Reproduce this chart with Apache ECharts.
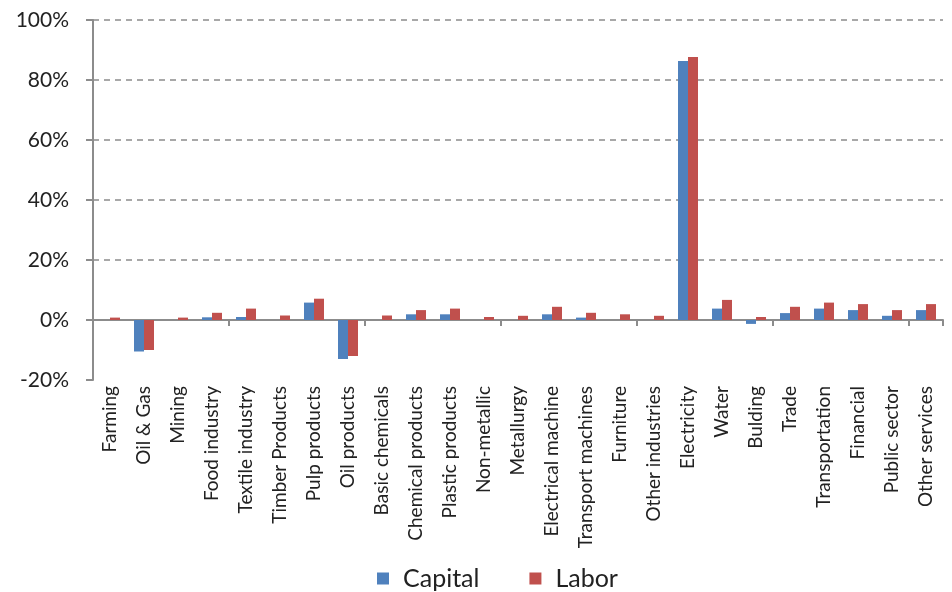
<!DOCTYPE html>
<html>
<head>
<meta charset="utf-8">
<script src="https://cdn.jsdelivr.net/npm/echarts@6/dist/echarts.min.js"></script>
<style>
  html, body { margin: 0; padding: 0; background: #fff; }
  #main { width: 952px; height: 592px; }
</style>
</head>
<body>
<div id="main"></div>
<script>
var categories = ['Farming', 'Oil & Gas', 'Mining', 'Food industry', 'Textile industry', 'Timber Products',
  'Pulp products', 'Oil products', 'Basic chemicals', 'Chemical products', 'Plastic products', 'Non-metallic',
  'Metallurgy', 'Electrical machine', 'Transport machines', 'Furniture', 'Other industries', 'Electricity',
  'Water', 'Bulding', 'Trade', 'Transportation', 'Financial', 'Public sector', 'Other services'];
var capital = [0, -10.5, 0, 0.9, 1.0, 0, 5.8, -13, 0, 1.9, 1.9, 0, 0, 1.9, 0.8, 0, 0, 86.3, 3.8, -1.3, 2.3, 3.8, 3.3, 1.4, 3.3];
var labor = [0.8, -10, 0.8, 2.4, 3.8, 1.5, 7.1, -12, 1.5, 3.3, 3.8, 1.0, 1.4, 4.4, 2.4, 1.9, 1.4, 87.7, 6.7, 1.0, 4.4, 5.8, 5.3, 3.3, 5.3];
var yTicks = [-20, 0, 20, 40, 60, 80, 100];

var myChart = echarts.init(document.getElementById('main'));
var font = 'Lato, "Open Sans", sans-serif';

var option = {
  animation: false,
  textStyle: { fontFamily: font },
  grid: { left: 93, right: 9, top: 20, bottom: 212, containLabel: false },
  legend: {
    top: 561,
    left: 372,
    icon: 'rect',
    itemWidth: 12,
    itemHeight: 12,
    itemGap: 50,
    textStyle: { fontSize: 25, color: '#222', fontFamily: font, padding: [0, 0, 0, 9] },
    data: ['Capital', 'Labor']
  },
  xAxis: [{
    type: 'category',
    data: categories,
    axisLine: { onZero: true, lineStyle: { color: '#8c8c8c', width: 2 } },
    axisTick: { show: true, length: 6, lineStyle: { color: '#8c8c8c', width: 2 } },
    axisLabel: { show: false }
  }, {
    type: 'category',
    position: 'bottom',
    data: categories,
    axisLine: { show: false, onZero: false },
    axisTick: { show: false },
    axisLabel: { rotate: 90, fontSize: 19, color: '#222', margin: 6, fontFamily: font, interval: 0 }
  }],
  yAxis: {
    type: 'value',
    min: yTicks[0],
    max: yTicks[yTicks.length - 1],
    interval: 20,
    axisLine: { show: true, lineStyle: { color: '#8c8c8c', width: 2 } },
    axisTick: { show: true, length: 7, lineStyle: { color: '#8c8c8c', width: 2 } },
    axisLabel: { formatter: '{value}%', fontSize: 21, color: '#222', margin: 24, fontFamily: font },
    splitLine: {
      show: true,
      lineStyle: {
        type: [6, 5],
        width: 1.5,
        color: ['rgba(0,0,0,0)', '#8c8c8c', '#8c8c8c', '#8c8c8c', '#8c8c8c', '#8c8c8c', '#8c8c8c']
      }
    }
  },
  series: [{
    name: 'Capital',
    type: 'bar',
    xAxisIndex: 0,
    data: capital,
    barWidth: 10,
    barGap: '0%',
    itemStyle: { color: '#4F81BD' }
  }, {
    name: 'Labor',
    type: 'bar',
    xAxisIndex: 0,
    data: labor,
    barWidth: 10,
    barGap: '0%',
    itemStyle: { color: '#C0504D' }
  }]
};

myChart.setOption(option);
</script>
</body>
</html>
